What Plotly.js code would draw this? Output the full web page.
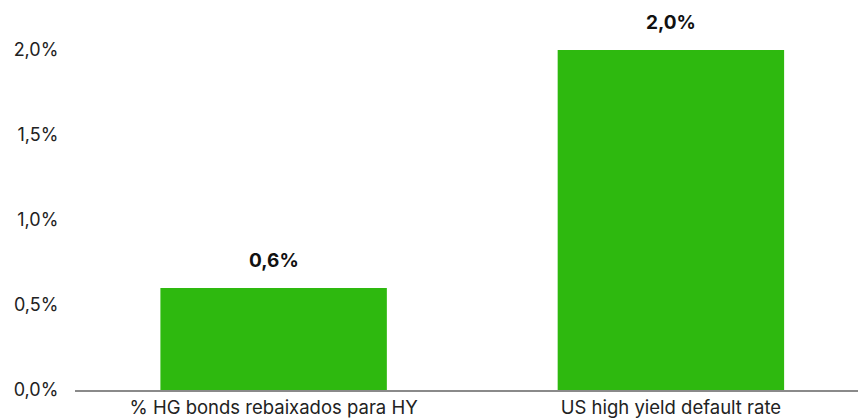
<!DOCTYPE html>
<html>
<head>
<meta charset="utf-8">
<script src="https://cdn.plot.ly/plotly-3.0.1.min.js"></script>
<style>html,body{margin:0;padding:0;background:#fff;}#chart{width:858px;height:420px;}</style>
</head>
<body>
<div id="chart"></div>
<script>
const categories = ["% HG bonds rebaixados para HY", "US high yield default rate"];
const values = [0.6, 2.0];
const valueLabels = ["0,6%", "2,0%"];
const yTickVals = [0, 0.5, 1.0, 1.5, 2.0];
const yTickText = ["0,0%", "0,5%", "1,0%", "1,5%", "2,0%"];

const FONT = "Inter, 'Liberation Sans', Arial, sans-serif";

const trace = {
  type: "bar",
  x: categories,
  y: values,
  marker: {color: "#2eb90f"},
  hoverinfo: "skip"
};

const annotations = categories.map((c, i) => ({
  x: c, y: values[i], xref: "x", yref: "y",
  text: "<b>" + valueLabels[i] + "</b>",
  showarrow: false, yanchor: "middle", yshift: 27,
  font: {family: FONT, size: 19, color: "#111"}
}));

const layout = {
  width: 858, height: 420,
  margin: {l: 75, r: 0, t: 10, b: 30},
  paper_bgcolor: "#fff", plot_bgcolor: "#fff",
  bargap: 0.43,
  showlegend: false,
  font: {family: FONT, size: 18, color: "#222"},
  xaxis: {
    range: [-0.5, 1.471],
    showline: true, linecolor: "#8a8a8a", linewidth: 1.5,
    showgrid: false, zeroline: false, ticks: "",
    tickfont: {family: FONT, size: 18.5, color: "#222"}
  },
  yaxis: {
    range: [0, 2.235],
    tickvals: yTickVals, ticktext: yTickText,
    showgrid: false, zeroline: false, showline: false,
    ticks: "outside", ticklen: 12, tickcolor: "rgba(0,0,0,0)",
    tickfont: {family: FONT, size: 18, color: "#222"}
  },
  annotations: annotations
};

Plotly.newPlot("chart", [trace], layout, {displayModeBar: false, staticPlot: true});
</script>
</body>
</html>
